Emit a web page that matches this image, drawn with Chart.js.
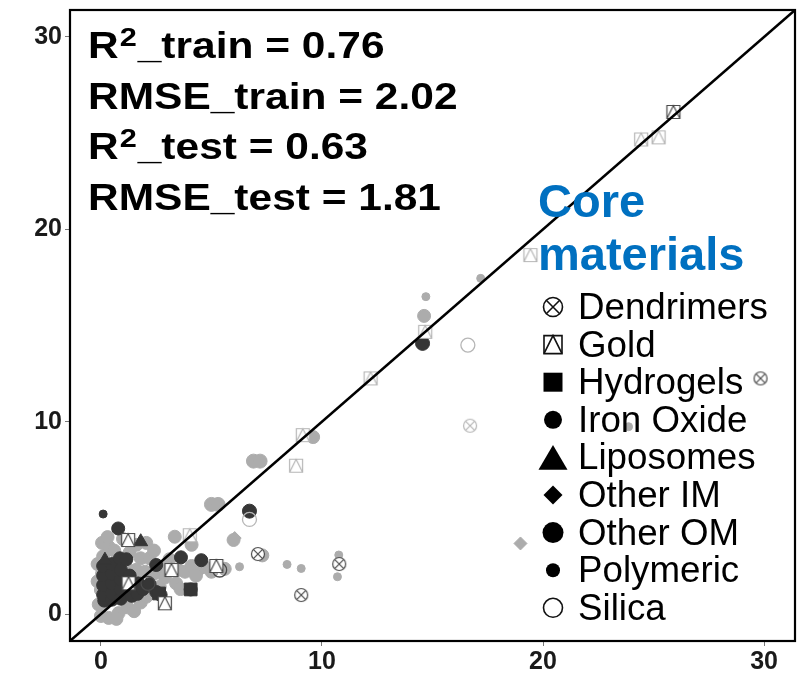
<!DOCTYPE html>
<html>
<head>
<meta charset="utf-8">
<script src="https://cdn.jsdelivr.net/npm/chart.js@4/dist/chart.umd.min.js"></script>
<style>
  html, body { margin: 0; padding: 0; background: #ffffff; }
  #wrap { width: 805px; height: 693px; }
</style>
</head>
<body>
<div id="wrap"><canvas id="c" width="805" height="693"></canvas></div>
<script>
// ---- data -------------------------------------------------------------
const axisMin = -1.4;
const axisMax = 31.4;
const xTicks = [0, 10, 20, 30];
const yTicks = [0, 10, 20, 30];

const statNames = ['R2_train', 'RMSE_train', 'R2_test', 'RMSE_test'];
const statValues = [0.76, 2.02, 0.63, 1.81];

const legendTitle = ['Core', 'materials'];
const materials = ['Dendrimers', 'Gold', 'Hydrogels', 'Iron Oxide', 'Liposomes',
                   'Other IM', 'Other OM', 'Polymeric', 'Silica'];

// [observed, predicted] pairs per core material, split into train and test
const dendrimersTrain = [[16.7, 9.79]];
const dendrimersTest = [[7.1, 3.12], [10.78, 2.6], [9.06, 0.99], [29.84, 12.25]];

const goldTrain = [[24.44, 24.67], [25.23, 24.78], [19.43, 18.66], [12.2, 12.25], [14.67, 14.67],
                   [9.13, 9.3], [8.83, 7.71], [4.02, 4.1]];
const goldTest = [[25.9, 26.1], [1.23, 3.85], [3.19, 2.29], [5.22, 2.5], [2.89, 0.56], [1.25, 1.6]];

const hydrogelsTest = [[4.06, 1.28], [2.63, 1.07]];

const ironOxideTrain = [
  [-0.15, 2.6], [-0.15, 1.7], [-0.1, 0.5], [0.05, 3.7], [0.1, 3.0], [0.05, 2.1], [0.0, 1.25],
  [0.1, 0.56], [0.0, -0.1], [0.35, -0.2], [0.8, 0.05], [1.2, 0.35], [1.5, 0.15], [0.35, 3.5],
  [0.6, 3.3], [1.0, 3.9], [1.3, 3.2], [1.6, 3.6], [2.05, 3.7], [1.8, 2.9], [2.2, 2.9], [1.6, 2.3],
  [2.0, 2.2], [2.4, 2.1], [2.75, 2.4], [3.0, 2.6], [3.1, 2.85], [3.34, 4.02], [1.8, 0.6],
  [2.05, 0.9], [2.66, 1.42], [3.4, 1.6], [3.6, 1.3], [3.8, 2.2], [4.1, 2.5], [4.4, 2.3], [4.3, 2.0],
  [4.7, 2.45], [4.1, 3.6], [5.0, 2.2], [5.6, 2.35], [6.0, 3.85], [7.3, 3.05], [9.6, 9.2],
  [14.62, 15.5], [0.3, 4.0], [2.4, 3.3], [2.9, 1.9], [1.1, 2.5], [3.5, 2.3], [0.7, -0.25]
];
const ironOxideTest = [
  [0.15, 0.7], [0.1, 1.0], [0.1, 1.5], [0.1, 2.0], [0.1, 2.5], [0.5, 0.75], [0.5, 1.1], [0.5, 1.6],
  [0.5, 2.1], [0.5, 2.6], [0.9, 0.8], [0.9, 1.3], [0.9, 1.8], [0.9, 2.3], [0.86, 2.9], [1.15, 2.85],
  [1.3, 1.5], [1.3, 2.0], [1.4, 0.95], [1.65, 1.05], [1.7, 1.6], [1.9, 1.3], [2.2, 1.55], [2.5, 1.15],
  [2.7, 1.0], [2.5, 2.55], [3.62, 2.95], [4.54, 2.8], [0.78, 4.45], [4.06, 1.28]
];

const liposomesTest = [[1.8, 3.76], [0.18, 2.8]];

const otherIMTrain = [[18.98, 3.67], [6.05, 3.95]];

const otherOMTrain = [[5.0, 5.7], [5.3, 5.7], [6.9, 7.95], [7.2, 7.95]];
const otherOMTest = [[6.72, 5.35], [14.55, 14.07]];

const polymericTrain = [[14.7, 16.5], [17.18, 17.45], [23.87, 9.74], [10.76, 3.07], [10.7, 1.94],
                        [8.42, 2.58], [9.06, 2.37], [6.27, 2.46]];
const polymericTest = [[0.1, 5.2]];

const silicaTrain = [[16.6, 13.98], [6.72, 4.92]];
const silicaTest = [[5.37, 2.29], [2.13, 1.6]];

// ---- marker drawing ---------------------------------------------------
function drawMarker(ctx, kind, x, y, s, fill, stroke, lw) {
  const h = s / 2;
  ctx.save();
  ctx.lineWidth = lw || 1;
  ctx.strokeStyle = stroke || fill;
  ctx.fillStyle = fill || 'rgba(0,0,0,0)';
  ctx.beginPath();
  switch (kind) {
    case 'circleX': {
      ctx.arc(x, y, h, 0, Math.PI * 2);
      if (fill) ctx.fill();
      ctx.stroke();
      const d = h * Math.SQRT1_2;
      ctx.beginPath();
      ctx.moveTo(x - d, y - d); ctx.lineTo(x + d, y + d);
      ctx.moveTo(x + d, y - d); ctx.lineTo(x - d, y + d);
      ctx.stroke();
      break;
    }
    case 'squareTri':
      ctx.rect(x - h, y - h, s, s);
      if (fill) ctx.fill();
      ctx.stroke();
      ctx.beginPath();
      ctx.moveTo(x - h, y + h); ctx.lineTo(x, y - h); ctx.lineTo(x + h, y + h);
      ctx.stroke();
      break;
    case 'square':
      ctx.rect(x - h, y - h, s, s);
      ctx.fill();
      break;
    case 'circle':
      ctx.arc(x, y, h, 0, Math.PI * 2);
      ctx.fill();
      break;
    case 'triangle':
      ctx.moveTo(x - h, y + s * 0.43);
      ctx.lineTo(x, y - s * 0.43);
      ctx.lineTo(x + h, y + s * 0.43);
      ctx.closePath();
      ctx.fill();
      break;
    case 'diamond':
      ctx.moveTo(x, y - h); ctx.lineTo(x + h, y); ctx.lineTo(x, y + h); ctx.lineTo(x - h, y);
      ctx.closePath();
      ctx.fill();
      break;
    case 'ring':
      ctx.arc(x, y, h, 0, Math.PI * 2);
      ctx.stroke();
      break;
  }
  ctx.restore();
}

function markerCanvas(kind, s, fill, stroke, lw) {
  const n = Math.ceil(s + lw + 3);
  const c = document.createElement('canvas');
  c.width = n; c.height = n;
  drawMarker(c.getContext('2d'), kind, n / 2, n / 2, s, fill, stroke, lw);
  return c;
}

const shade = {
  train: { fill: '#acacac', line: '#b6b6b6' },
  test:  { fill: '#363636', line: '#4a4a4a' }
};

// point look per material inside the plot
const plotStyle = {
  'Dendrimers': { image: 'circleX', size: 13 },
  'Gold':       { image: 'squareTri', size: 13 },
  'Hydrogels':  { pointStyle: 'rect', r: 9 },
  'Iron Oxide': { pointStyle: 'circle', r: 6.5 },
  'Liposomes':  { pointStyle: 'triangle', r: 8 },
  'Other IM':   { pointStyle: 'rectRot', r: 6.5 },
  'Other OM':   { pointStyle: 'circle', r: 7 },
  'Polymeric':  { pointStyle: 'circle', r: 4 },
  'Silica':     { pointStyle: 'circle', r: 7, hollow: true }
};

// legend symbol per material
const legendStyle = {
  'Dendrimers': { kind: 'circleX', s: 19, fill: '#ffffff', lw: 1.6 },
  'Gold':       { kind: 'squareTri', s: 18, fill: '#ffffff', lw: 1.6 },
  'Hydrogels':  { kind: 'square', s: 19 },
  'Iron Oxide': { kind: 'circle', s: 18 },
  'Liposomes':  { kind: 'triangle', s: 29 },
  'Other IM':   { kind: 'diamond', s: 19 },
  'Other OM':   { kind: 'circle', s: 21 },
  'Polymeric':  { kind: 'circle', s: 14 },
  'Silica':     { kind: 'ring', s: 19, lw: 1.6 }
};

// drawing order: filled train points, filled test points, then outlined markers
const series = [
  ['Iron Oxide', 'train', ironOxideTrain],
  ['Other OM', 'train', otherOMTrain],
  ['Polymeric', 'train', polymericTrain],
  ['Other IM', 'train', otherIMTrain],
  ['Iron Oxide', 'test', ironOxideTest],
  ['Other OM', 'test', otherOMTest],
  ['Polymeric', 'test', polymericTest],
  ['Liposomes', 'test', liposomesTest],
  ['Hydrogels', 'test', hydrogelsTest],
  ['Silica', 'train', silicaTrain],
  ['Silica', 'test', silicaTest],
  ['Dendrimers', 'train', dendrimersTrain],
  ['Dendrimers', 'test', dendrimersTest],
  ['Gold', 'train', goldTrain],
  ['Gold', 'test', goldTest]
];

const datasets = series.map(([mat, set, values], i) => {
  const st = plotStyle[mat];
  const col = shade[set];
  const ds = {
    type: 'scatter',
    label: mat + ' (' + set + ')',
    data: values.map(([x, y]) => ({ x, y })),
    order: -i,
    pointRadius: st.r || 6,
    pointHoverRadius: st.r || 6
  };
  if (st.image) {
    ds.pointStyle = markerCanvas(st.image, st.size, '#ffffff', col.line, 1.2);
  } else if (st.hollow) {
    ds.pointStyle = st.pointStyle;
    ds.pointBackgroundColor = 'rgba(255,255,255,0)';
    ds.pointBorderColor = col.line;
    ds.pointBorderWidth = 1.3;
  } else {
    ds.pointStyle = st.pointStyle;
    ds.pointBackgroundColor = col.fill;
    ds.pointBorderColor = col.fill;
    ds.pointBorderWidth = 1;
  }
  return ds;
});

// identity line y = x across the full axis range
datasets.push({
  type: 'line',
  label: 'y = x',
  data: [{ x: axisMin, y: axisMin }, { x: axisMax, y: axisMax }],
  borderColor: '#000000',
  borderWidth: 2.5,
  pointRadius: 0,
  order: -1000
});

// ---- text, frame and legend -------------------------------------------
const sansFont = '"Liberation Sans", Arial, Helvetica, sans-serif';

const framePlugin = {
  id: 'frame',
  afterDatasetsDraw(chart) {
    const { ctx, chartArea: a } = chart;
    ctx.save();
    ctx.strokeStyle = '#000000';
    ctx.lineWidth = 2.2;
    ctx.strokeRect(a.left, a.top, a.right - a.left, a.bottom - a.top);
    ctx.restore();
  }
};

// text drawn with a horizontal stretch
function wideText(ctx, str, x, y, sx) {
  ctx.save();
  ctx.translate(x, y);
  ctx.scale(sx, 1);
  ctx.fillText(str, 0, 0);
  const w = ctx.measureText(str).width * sx;
  ctx.restore();
  return w;
}

const textPlugin = {
  id: 'annotations',
  afterDraw(chart) {
    const ctx = chart.ctx;
    ctx.save();
    ctx.textAlign = 'left';
    ctx.textBaseline = 'alphabetic';

    // model statistics
    const sx = 1.18;
    ctx.fillStyle = '#000000';
    statNames.forEach((name, i) => {
      const y = 58 + i * 50.5;
      let x = 88;
      let rest = name;
      ctx.font = 'bold 36px ' + sansFont;
      if (name.startsWith('R2')) {
        x += wideText(ctx, 'R', x, y, sx) + 1;
        ctx.font = 'bold 26px ' + sansFont;
        x += wideText(ctx, '2', x, y - 12, sx) + 1;
        rest = name.slice(2);
        ctx.font = 'bold 36px ' + sansFont;
      }
      wideText(ctx, rest + ' = ' + statValues[i].toFixed(2), x, y, sx);
    });

    // legend title
    ctx.fillStyle = '#0070C0';
    ctx.font = 'bold 47px ' + sansFont;
    legendTitle.forEach((w, i) => ctx.fillText(w, 538, 217 + i * 53));

    // legend entries
    materials.forEach((m, i) => {
      const y = 307 + i * 37.6;
      const st = legendStyle[m];
      drawMarker(ctx, st.kind, 553, y, st.s, st.fill || '#000000', '#111111', st.lw || 1);
      ctx.fillStyle = '#000000';
      ctx.font = '36px ' + sansFont;
      wideText(ctx, m, 578, y + 12, 1.02);
    });
    ctx.restore();
  }
};

const axisCommon = {
  type: 'linear',
  min: axisMin,
  max: axisMax,
  grid: { drawOnChartArea: false, drawTicks: true, tickLength: 5, color: '#777777', lineWidth: 1 },
  border: { display: false },
  ticks: {
    color: '#1a1a1a',
    font: { family: sansFont, size: 25, weight: 'bold' },
    maxRotation: 0,
    autoSkip: false
  }
};

new Chart(document.getElementById('c'), {
  type: 'scatter',
  data: { datasets },
  options: {
    responsive: false,
    animation: false,
    devicePixelRatio: 1,
    layout: { padding: { left: 0, right: 4, top: 10, bottom: 0 } },
    plugins: { legend: { display: false }, tooltip: { enabled: false } },
    scales: {
      x: Object.assign({}, axisCommon, {
        position: 'bottom',
        ticks: Object.assign({}, axisCommon.ticks, { padding: 1 }),
        afterBuildTicks(s) { s.ticks = xTicks.map(v => ({ value: v })); },
        afterFit(s) { s.height = 52; s.paddingLeft = 0; s.paddingRight = 0; }
      }),
      y: Object.assign({}, axisCommon, {
        position: 'left',
        ticks: Object.assign({}, axisCommon.ticks, { padding: 3 }),
        afterBuildTicks(s) { s.ticks = yTicks.map(v => ({ value: v })); },
        afterFit(s) { s.width = 70; s.paddingTop = 0; s.paddingBottom = 0; }
      })
    }
  },
  plugins: [framePlugin, textPlugin]
});
</script>
</body>
</html>
